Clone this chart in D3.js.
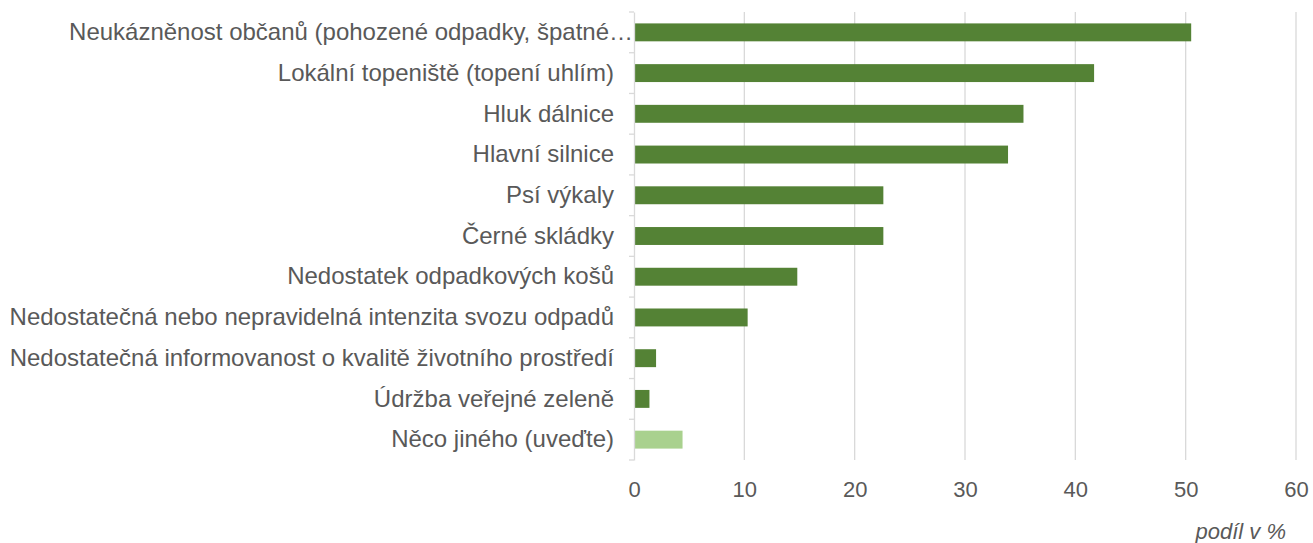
<!DOCTYPE html>
<html>
<head>
<meta charset="utf-8">
<script src="https://cdn.jsdelivr.net/npm/d3@7"></script>
<style>
  body { margin: 0; background: #fff; }
  text { font-family: "Liberation Sans", Arial, sans-serif; fill: #595959; }
</style>
</head>
<body>
<div id="chart"></div>
<script>
const categories = [
    "Neukázněnost občanů (pohozené odpadky, špatné…",
    "Lokální topeniště (topení uhlím)",
    "Hluk dálnice",
    "Hlavní silnice",
    "Psí výkaly",
    "Černé skládky",
    "Nedostatek odpadkových košů",
    "Nedostatečná nebo nepravidelná intenzita svozu odpadů",
    "Nedostatečná informovanost o kvalitě životního prostředí",
    "Údržba veřejné zeleně",
    "Něco jiného (uveďte)"
];
const values = [50.5, 41.7, 35.3, 33.9, 22.6, 22.6, 14.8, 10.3, 2.0, 1.4, 4.4];
const highlight = [false, false, false, false, false, false, false, false, false, false, true];
const xTicks = [0, 10, 20, 30, 40, 50, 60];
const axisTitle = "podíl v %";

const width = 1313, height = 543;
const margin = {top: 12, right: 17, bottom: 83, left: 634};

const svg = d3.select("#chart").append("svg")
    .attr("width", width)
    .attr("height", height);

const x = d3.scaleLinear()
    .domain([0, 60])
    .range([margin.left, width - margin.right]);

const y = d3.scaleBand()
    .domain(categories)
    .range([margin.top, height - margin.bottom])
    .paddingInner(0.56)
    .paddingOuter(0.28);

// gridlines
svg.append("g")
    .selectAll("line")
    .data(xTicks.slice(1))
    .join("line")
    .attr("x1", d => x(d))
    .attr("x2", d => x(d))
    .attr("y1", margin.top)
    .attr("y2", height - margin.bottom)
    .attr("stroke", "#d9d9d9")
    .attr("stroke-width", 1.3);

// bars
svg.append("g")
    .selectAll("rect")
    .data(categories)
    .join("rect")
    .attr("x", x(0))
    .attr("y", d => y(d))
    .attr("width", (d, i) => x(values[i]) - x(0))
    .attr("height", y.bandwidth())
    .attr("fill", (d, i) => highlight[i] ? "#a9d18e" : "#548235");

// y axis
const yAxis = svg.append("g")
    .attr("transform", `translate(${x(0)},0)`)
    .call(d3.axisLeft(y).tickSize(0).tickPadding(20));
yAxis.select(".domain").attr("stroke", "#d9d9d9").attr("stroke-width", 1.3);
yAxis.selectAll("text")
    .attr("font-size", 24)
    .attr("font-family", null)
    .attr("fill", "#595959")
    .attr("x", (d, i) => i === 0 ? -1 : -20);

// small tick marks on band boundaries
const bounds = categories.map(c => y(c) - y.step() * y.paddingInner() / 2);
bounds.push(height - margin.bottom);
svg.append("g")
    .selectAll("line")
    .data(bounds)
    .join("line")
    .attr("x1", x(0) - 5)
    .attr("x2", x(0))
    .attr("y1", d => d)
    .attr("y2", d => d)
    .attr("stroke", "#d9d9d9")
    .attr("stroke-width", 1.3);

// x axis labels
const xAxis = svg.append("g")
    .attr("transform", `translate(0,${height - margin.bottom})`)
    .call(d3.axisBottom(x).tickValues(xTicks).tickSize(0).tickPadding(21));
xAxis.select(".domain").remove();
xAxis.selectAll("text")
    .attr("font-size", 22)
    .attr("font-family", null)
    .attr("fill", "#595959");

svg.append("text")
    .attr("x", x(60) - 10)
    .attr("y", 539)
    .attr("text-anchor", "end")
    .attr("font-size", 22)
    .attr("font-style", "italic")
    .text(axisTitle);
</script>
</body>
</html>
